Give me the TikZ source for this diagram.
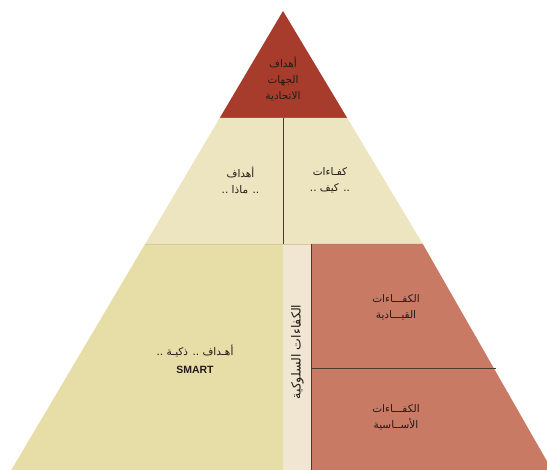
\documentclass[tikz,border=0pt]{standalone}
\usepackage{fontspec}
\setmainfont{Liberation Sans}
\newfontfamily\arabicfont[Script=Arabic]{DejaVu Sans}
\TeXXeTstate=1
\definecolor{topred}{HTML}{A83C2C}
\definecolor{midbeige}{HTML}{EDE4C0}
\definecolor{lowyellow}{HTML}{E7DDA6}
\definecolor{striplight}{HTML}{F0E6D2}
\definecolor{terra}{HTML}{C97A64}
\definecolor{sepline}{HTML}{D6CB9E}
\definecolor{darkline}{HTML}{4A3A30}
\definecolor{txt}{HTML}{221C18}
\tikzset{
  lbl/.style={font=\arabicfont\fontsize{10.5}{16}\selectfont, text=txt, align=center, inner sep=0pt},
  divider/.style={draw=darkline, line width=0.7pt},
}
\begin{document}
\begin{tikzpicture}[x=1pt,y=-1pt]
\useasboundingbox (0,0) rectangle (547,470);
\clip (0,0) rectangle (547,470);
% key points
\coordinate (apex) at (283,11);
\coordinate (tl) at (219.7,118);
\coordinate (tr) at (347.2,118);
\coordinate (tm) at (283.3,118);
\coordinate (ml) at (145.1,244);
\coordinate (mr) at (422.8,244);
\coordinate (mm) at (283.3,244);
\coordinate (sr) at (311.7,244);
\coordinate (bl) at (11.3,470);
\coordinate (br) at (552,470);
\coordinate (bm) at (283.3,470);
\coordinate (bs) at (311.7,470);
\coordinate (hl) at (311.7,368);
\coordinate (hr) at (496,368);
% fills
\fill[topred] (apex) -- (tr) -- (tl) -- cycle;
\fill[midbeige] (tl) -- (tr) -- (mr) -- (ml) -- cycle;
\fill[lowyellow] (ml) -- (mm) -- (bm) -- (bl) -- cycle;
\fill[striplight] (mm) rectangle (bs);
\fill[terra] (sr) -- (mr) -- (br) -- (bs) -- cycle;
% lines
\draw[sepline, line width=0.8pt] (ml) -- (sr);
\draw[divider] (tm) -- (mm);
\draw[divider] (sr) -- (bs);
\draw[divider] (hl) -- (hr);
% texts
\node[lbl] (t1) at (283,79) {\beginR أهداف\endR\\\beginR الجهات\endR\\\beginR الاتحادية\endR};
\node[lbl] (t2) at (240.5,180) {\beginR أهداف\endR\\\beginR .. ماذا ..\endR};
\node[lbl] (t3) at (330,180) {\beginR كفـاءات\endR\\\beginR .. كيف ..\endR};
\node[lbl, font=\fontsize{10.5}{18}\selectfont] (t4) at (195,359) {{\arabicfont\beginR أهـداف .. ذكيـة ..\endR}\\\textbf{SMART}};
\node[lbl, font=\arabicfont\fontsize{12.5}{14}\selectfont, rotate=90] (t5) at (297.5,352) {\beginR الكفاءات السلوكية\endR};
\node[lbl] (t6) at (396,307.5) {\beginR الكفـــاءات\endR\\\beginR القيـــادية\endR};
\node[lbl] (t7) at (396,417.5) {\beginR الكفـــاءات\endR\\\beginR الأســاسية\endR};
\end{tikzpicture}
\end{document}
